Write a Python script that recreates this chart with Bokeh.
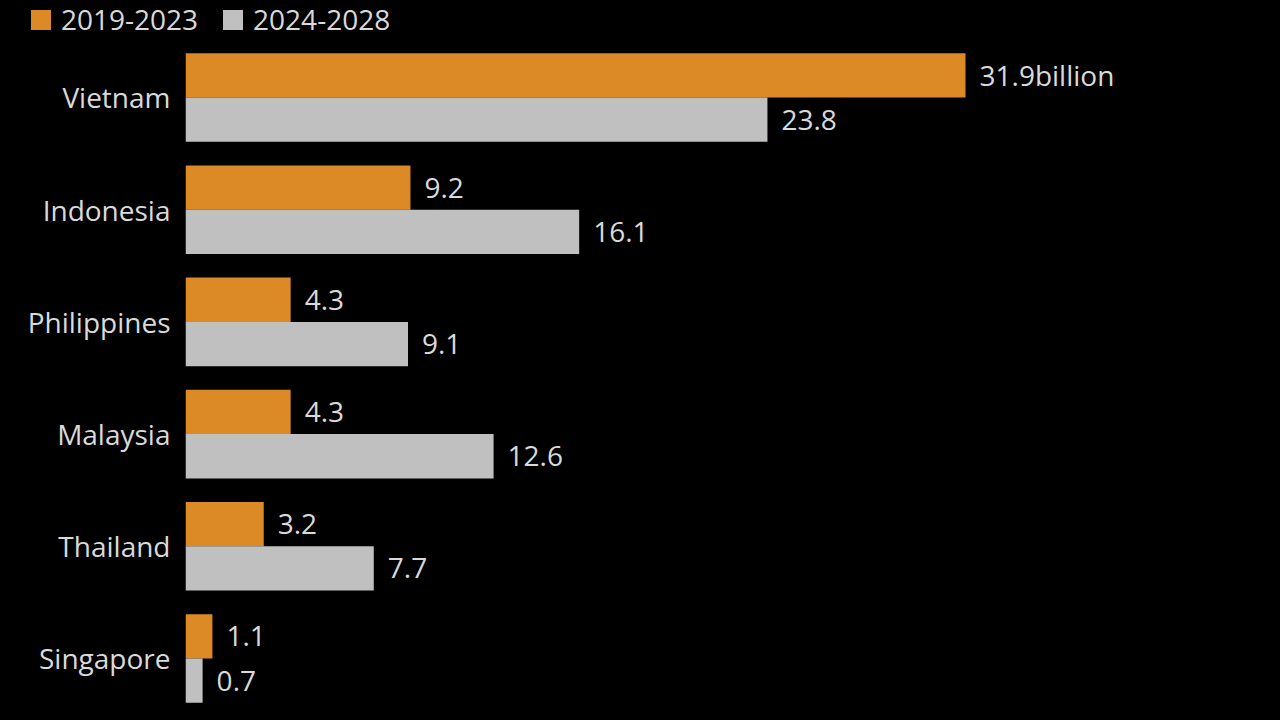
from bokeh.plotting import figure
from bokeh.layouts import column
from bokeh.models import Range1d, FixedTicker, Legend, LegendItem, ColumnDataSource
from bokeh.transform import dodge
from bokeh.embed import file_html
from bokeh.resources import INLINE
from bokeh.core.properties import value

# ---- data ----
countries = ["Vietnam", "Indonesia", "Philippines", "Malaysia", "Thailand", "Singapore"]
series_names = ["2019-2023", "2024-2028"]
values_2019_2023 = [31.9, 9.2, 4.3, 4.3, 3.2, 1.1]
values_2024_2028 = [23.8, 16.1, 9.1, 12.6, 7.7, 0.7]
first_label_suffix = "billion"

# ---- styles ----
ORANGE = "#DC8A25"
GRAY = "#C0C0C0"
TEXT = "#DADADA"
BG = "#000000"
FONT = "Open Sans"
FS = "28px"

idx = list(range(len(countries)))
labels_a = [f"{v:.1f}" + (first_label_suffix if i == 0 else "") for i, v in enumerate(values_2019_2023)]
labels_b = [f"{v:.1f}" for v in values_2024_2028]

src = ColumnDataSource(dict(idx=idx, a=values_2019_2023, b=values_2024_2028,
                            la=labels_a, lb=labels_b))

W = 1280
LEG_H = 40
H = 720 - LEG_H
FRAME_LEFT = 185
px_per_unit = 780 / 31.9
x_end = (W - FRAME_LEFT) / px_per_unit

OFF = 0.1975
BH = 0.395

# ---- legend strip ----
leg = figure(width=W, height=LEG_H, output_backend="svg", toolbar_location=None,
             x_range=Range1d(0, 1), y_range=Range1d(0, 1),
             x_axis_location=None, y_axis_location=None,
             min_border_left=0, min_border_right=0, min_border_top=0, min_border_bottom=0,
             background_fill_color=BG, border_fill_color=BG, outline_line_color=None)
leg.frame_align = False
leg.xgrid.visible = False
leg.ygrid.visible = False
lr1 = leg.hbar(y="idx", left=0, right="a", height=BH, source=src,
               fill_color=ORANGE, line_color=None, visible=False)
lr2 = leg.hbar(y="idx", left=0, right="b", height=BH, source=src,
               fill_color=GRAY, line_color=None, visible=False)
legend = Legend(items=[LegendItem(label=series_names[0], renderers=[lr1]),
                       LegendItem(label=series_names[1], renderers=[lr2])],
                location=(28, 2), orientation="horizontal", click_policy="none",
                glyph_width=25, glyph_height=25, label_standoff=8, spacing=22,
                padding=0, margin=0, border_line_color=None,
                background_fill_alpha=0, label_text_font=FONT,
                label_text_font_size=FS, label_text_color=TEXT)
leg.add_layout(legend)

# ---- main chart ----
p = figure(width=W, height=H, output_backend="svg", toolbar_location=None,
           x_range=Range1d(0, x_end), y_range=Range1d(5.5526, -0.508),
           x_axis_location=None, y_axis_location="left",
           min_border_left=FRAME_LEFT, min_border_right=0,
           min_border_top=0, min_border_bottom=0,
           background_fill_color=BG, border_fill_color=BG, outline_line_color=None)
p.frame_align = False
p.xgrid.visible = False
p.ygrid.visible = False

ax = p.yaxis[0]
ax.ticker = FixedTicker(ticks=idx)
ax.major_label_overrides = {i: c for i, c in zip(idx, countries)}
ax.major_label_text_font = FONT
ax.major_label_text_font_size = FS
ax.major_label_text_color = TEXT
ax.axis_line_color = None
ax.major_tick_line_color = None
ax.minor_tick_line_color = None
ax.major_tick_out = 0
ax.major_label_standoff = 15

p.hbar(y=dodge("idx", -OFF), left=0, right="a", height=BH, source=src,
       fill_color=ORANGE, line_color=None)
p.hbar(y=dodge("idx", OFF), left=0, right="b", height=BH, source=src,
       fill_color=GRAY, line_color=None)

for col, lab, off in (("a", "la", -OFF), ("b", "lb", OFF)):
    p.text(x=col, y=dodge("idx", off), text=lab, source=src, x_offset=14,
           text_baseline="middle", text_align="left",
           text_font=value(FONT), text_font_size=value(FS), text_color=TEXT)

layout = column(leg, p, spacing=0)
layout.styles = {"background-color": BG}

html = file_html(layout, INLINE)
html = html.replace("<head>", "<head><style>html,body{background:#000;}</style>", 1)
open("out.html", "w").write(html)
